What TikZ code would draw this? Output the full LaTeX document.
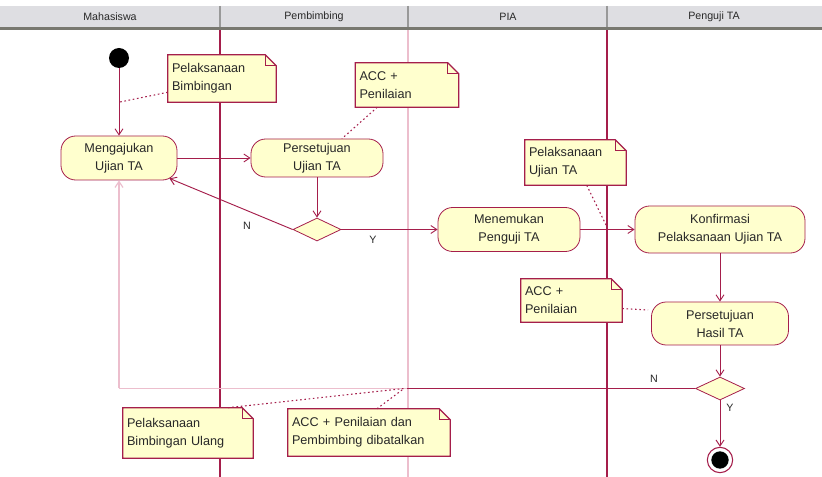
\documentclass[tikz,border=0pt]{standalone}
\usepackage{fontspec}
\setmainfont{Liberation Sans}
\usetikzlibrary{arrows.meta,shapes.geometric,calc}
\definecolor{crim}{RGB}{165,30,75}
\definecolor{lpink}{RGB}{236,190,205}
\definecolor{afill}{RGB}{255,255,206}
\definecolor{hdr}{RGB}{222,222,226}
\definecolor{hdrline}{RGB}{120,120,112}
\definecolor{txt}{RGB}{40,40,40}
\pgfdeclarelayer{bg}
\pgfdeclarelayer{notebg}
\pgfsetlayers{bg,notebg,main}
\begin{document}
\begin{tikzpicture}[x=0.75pt,y=-0.75pt,
  act/.style={rectangle, rounded corners=11pt, draw=crim, fill=afill, line width=0.6pt,
    font=\fontsize{9.5}{13.5}\selectfont, text=txt, align=center, inner sep=0pt},
  note/.style={rectangle, draw=none, fill=none, font=\fontsize{9.5}{13.5}\selectfont,
    text=txt, align=left, inner xsep=3pt, inner ysep=0pt},
  dec/.style={diamond, draw=crim, fill=afill, line width=0.6pt, inner sep=0pt},
  flow/.style={draw=crim, line width=0.7pt, -{Straight Barb[length=4.5pt,width=6pt]}},
  pflow/.style={draw=lpink, line width=0.9pt},
  anchorl/.style={draw=crim, line width=0.8pt, dash pattern=on 1.2pt off 2pt},
  lbl/.style={font=\fontsize{8}{9}\selectfont, text=txt},
  hdrtxt/.style={font=\fontsize{8}{9}\selectfont, text=txt}
]
\useasboundingbox (0,0) rectangle (822,477);

% header and lanes
\begin{pgfonlayer}{bg}
  \fill[white] (0,0) rectangle (822,477);
  \fill[hdr] (0,6) rectangle (822,27);
  \fill[hdrline] (0,27) rectangle (822,30.5);
  \draw[gray!80, line width=0.8pt] (220,6) -- (220,27);
  \draw[gray!80, line width=0.8pt] (408,6) -- (408,27);
  \draw[gray!80, line width=0.8pt] (607,6) -- (607,27);
  \draw[crim, line width=1.1pt] (220,30.5) -- (220,477);
  \draw[lpink, line width=1pt] (408,30.5) -- (408,477);
  \draw[crim, line width=1.1pt] (607,30.5) -- (607,477);
\end{pgfonlayer}
\node[hdrtxt] (h1) at (110,16.5) {Mahasiswa};
\node[hdrtxt] (h2) at (314,16.5) {Pembimbing};
\node[hdrtxt] (h3) at (508,16.5) {PIA};
\node[hdrtxt] (h4) at (714,16.5) {Penguji TA};

% activities
\node[circle, fill=black, minimum size=15pt, inner sep=0pt] (start) at (119,58) {};
\node[act, minimum width=87pt, minimum height=33pt] (a1) at (119,158) {Mengajukan\\Ujian TA};
\node[act, minimum width=99pt, minimum height=28.5pt] (a2) at (317,158) {Persetujuan\\Ujian TA};
\node[dec, minimum width=36pt, minimum height=17.25pt] (d1) at (317,229.5) {};
\node[act, minimum width=106.5pt, minimum height=33pt] (a3) at (509,229.5) {Menemukan\\Penguji TA};
\node[act, minimum width=127.5pt, minimum height=35.25pt] (a4) at (720,229.5) {Konfirmasi\\Pelaksanaan Ujian TA};
\node[act, minimum width=102.75pt, minimum height=32.25pt] (a5) at (720,323.5) {Persetujuan\\Hasil TA};
\node[dec, minimum width=36.75pt, minimum height=17.25pt] (d2) at (720,388.5) {};
\node[circle, draw=crim, line width=0.8pt, minimum size=19pt, inner sep=0pt] (end) at (720,460) {};
\node[circle, fill=black, minimum size=13pt, inner sep=0pt] (endin) at (720,460) {};

% notes
\node[note, text width=75pt, minimum height=35.25pt] (n1) at (222,78.5) {Pelaksanaan\\Bimbingan};
\node[note, text width=71.25pt, minimum height=33pt] (n2) at (407,85) {ACC +\\Penilaian};
\node[note, text width=69.75pt, minimum height=33.75pt] (n3) at (575.5,162.5) {Pelaksanaan\\Ujian TA};
\node[note, text width=69.75pt, minimum height=32.25pt] (n4) at (571.5,300.5) {ACC +\\Penilaian};
\node[note, text width=91.5pt, minimum height=37.5pt] (n5) at (188,433) {Pelaksanaan\\Bimbingan Ulang};
\node[note, text width=115.5pt, minimum height=35.25pt] (n6) at (369,432.5) {ACC + Penilaian dan\\Pembimbing dibatalkan};

\begin{pgfonlayer}{notebg}
  \foreach \n in {n1,n2,n3,n4,n5,n6} {
    \draw[draw=crim, fill=afill, line width=0.9pt]
      (\n.north west) -- ($(\n.north east)+(-11,0)$) -- ($(\n.north east)+(0,11)$)
      -- (\n.south east) -- (\n.south west) -- cycle;
    \draw[crim, line width=0.5pt] ($(\n.north east)+(-11,0)$) -- ++(0,11) -- ++(11,0);
  }
\end{pgfonlayer}

% anchor points on transitions
\coordinate (k1) at (120,102);
\coordinate (k3) at (607,227);
\coordinate (k4) at (648,310);
\coordinate (k5) at (404,388.5);
\coordinate (rm) at (407,388.5);
\coordinate (rc) at (119,388.5);

% transitions
\draw[flow] (start) -- (a1.north);
\draw[flow] (a1.east) -- (a1.east -| a2.west);
\draw[flow] (a2.south) -- (d1.north);
\draw[flow] (d1.west) -- ($(a1.south east)+(-8,-2)$);
\draw[flow] (d1.east) -- (d1.east -| a3.west);
\draw[flow] (a3.east) -- (a3.east -| a4.west);
\draw[flow] (a4.south) -- (a5.north);
\draw[flow] (a5.south) -- (d2.north);
\draw[flow] (d2.south) -- (end.north);
\draw[draw=crim, line width=0.8pt] (d2.west) -- (rm);
\draw[pflow] (rm) -- (rc);
\draw[pflow, -{Straight Barb[length=4.5pt,width=6pt]}] (rc) -- (rc |- a1.south);

% labels
\node[lbl] (lN1) at (247,226) {N};
\node[lbl] (lY1) at (373,240) {Y};
\node[lbl] (lN2) at (654,379) {N};
\node[lbl] (lY2) at (730,408) {Y};

% note connectors
\draw[anchorl] ($(n1.south west)+(0,-10)$) -- (k1);
\draw[anchorl] ($(n2.south west)+(22,0)$) -- ($(a2.north)+(25,0)$);
\draw[anchorl] ($(n3.south west)+(62,0)$) -- (k3);
\draw[anchorl] ($(n4.east)+(0,8)$) -- (k4);
\draw[anchorl] ($(n5.north)+(40,0)$) -- (k5);
\draw[anchorl] ($(n6.north)+(8,0)$) -- (k5);
\end{tikzpicture}
\end{document}
